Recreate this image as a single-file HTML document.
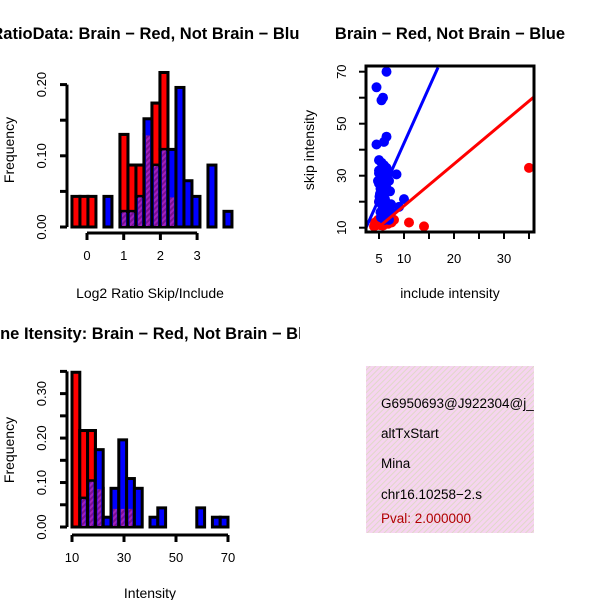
<!DOCTYPE html>
<html><head><meta charset="utf-8"><style>
body{margin:0;background:#fff}
svg text{font-family:"Liberation Sans",sans-serif}
</style></head><body>
<svg id="c" width="600" height="600" xmlns="http://www.w3.org/2000/svg">
<defs>
<pattern id="hatch" patternUnits="userSpaceOnUse" width="4" height="4" patternTransform="rotate(45)">
<rect width="4" height="4" fill="#a020c0"/><rect width="2" height="4" fill="#7a1090"/>
</pattern>
<pattern id="pinkhatch" patternUnits="userSpaceOnUse" width="4" height="4" patternTransform="rotate(45)">
<rect width="4" height="4" fill="#f6d4f0"/><rect width="1" height="4" fill="#e0d8c8"/>
</pattern>
<clipPath id="clipL"><rect x="0" y="0" width="300" height="600"/></clipPath>
<clipPath id="clipScatter"><rect x="366" y="66" width="168" height="166"/></clipPath>
<clipPath id="clipBox"><rect x="366" y="366" width="168" height="167"/></clipPath>
</defs>
<g id="g1" clip-path="url(#clipL)"></g>
<g id="g2"></g>
<g id="g3" clip-path="url(#clipL)"></g>
<g id="g4"></g>
</svg>
<script>
// Top-left histogram (log2 ratio)
const ratioBinStart = -0.41;
const ratioBinWidth = 0.218;
const ratioRed  = [0.043,0.043,0.043,0,0,0,0.13,0.087,0.087,0.13,0.174,0.217,0.043,0,0,0,0,0,0,0];
const ratioBlue = [0,0,0,0,0.043,0,0.022,0.022,0.043,0.152,0.087,0.109,0.109,0.196,0.065,0.043,0,0.087,0,0.022];
const ratioXTicks = [0,1,2,3];
const ratioYTicks = ["0.00","0.10","0.20"];
const ratioYMinor = [0,0.05,0.1,0.15,0.2];
// Bottom-left histogram (intensity)
const intBinStart = 10;
const intBinWidth = 3;
const intRed  = [0.348,0.217,0.217,0.087,0,0.043,0.043,0.043,0,0,0,0,0,0,0,0,0,0,0,0];
const intBlue = [0,0.065,0.104,0.174,0.022,0.087,0.196,0.109,0.087,0,0.022,0.043,0,0,0,0,0.043,0,0.022,0.022];
const intXTicks = [10,30,50,70];
const intYTicks = ["0.00","0.10","0.20","0.30"];
const intYMinor = [0,0.05,0.1,0.15,0.2,0.25,0.3,0.35];
// Scatter
const blueX = [4.5,6.5,5.5,5.8,4.5,6.5,6,8.5,10,9,5,5.5,6,6.5,5,5.5,6,7,5,5.5,6,6.5,5.2,5.8,6.2,5,5.5,6,6.8,5.3,5.7,6.3,7,5,5.6,6.4,7.2,5.1,5.9,6.6,7.5,5.4,6.1,4.8,5.3,6.9,7.4,5.9,6.3];
const blueY = [64,70,59,60,42,45,43,30.5,21,18,36,35,34,33,31,30,29,28,27,26,25,24,23,22,21,20,19,18,17,16,15,14,13,32,30,26,24,22,20,18,16,14,13,28,25,31,19,15,27];
const redX = [35,11,14,4.5,5,4,5.5,6,6.5,7,4.8,5.2,7.5,8,4.2,5.8,6.8];
const redY = [33,12,10.5,11,20,10.5,12,11.5,12.5,13,13,11,12,13,12,10.8,11.5];
const blueLine = [2.4,10,16.8,71.6];
const redLine = [4.5,9.5,36,60.3];
const scXTicks = [5,10,20,30];
const scYTicks = [10,30,50,70];
const scXMinor = [5,10,15,20,25,30,35];
const scYMinor = [10,20,30,40,50,60,70];

const NS="http://www.w3.org/2000/svg";
function mk(parent,tag,attrs,text){const e=document.createElementNS(NS,tag);for(const k in attrs)e.setAttribute(k,attrs[k]);if(text!==undefined)e.textContent=text;parent.appendChild(e);return e;}

function hist(g,opt){
  const xs=v=>opt.x0px+(v-opt.xv0)*opt.xscale;
  const ys=v=>opt.y0px-v*opt.yscale;
  for(let i=0;i<opt.red.length;i++){
    const l=xs(opt.binStart+i*opt.binW), r=xs(opt.binStart+(i+1)*opt.binW);
    const R=opt.red[i];
    if(R>0){const e=mk(g,'rect',{x:l,y:ys(R),width:r-l,height:ys(0)-ys(R),fill:'#ff0000',stroke:'#000','stroke-width':3});
      
      }
  }
  for(let i=0;i<opt.blue.length;i++){
    const l=xs(opt.binStart+i*opt.binW), r=xs(opt.binStart+(i+1)*opt.binW);
    const R=opt.red[i],B=opt.blue[i];
    if(B>0){const e=mk(g,'rect',{x:l,y:ys(B),width:r-l,height:ys(0)-ys(B),fill:'#0000ff',stroke:'#000','stroke-width':3});
      
      }
    if(B>0&&R>0){
      if(R>B){const e2=mk(g,'rect',{x:l,y:ys(R),width:r-l,height:ys(B)-ys(R),fill:'#ff0000',stroke:'#000','stroke-width':3});
        
        }
      const m=Math.min(R,B);
      const o=mk(g,'rect',{x:l+2,y:ys(m)+1,width:r-l-4,height:ys(0)-ys(m)-2,fill:'url(#hatch)'});
      
      
    }
  }
  const ya=mk(g,'g',{});
  
  
  const ymax=opt.yMinor[opt.yMinor.length-1];
  mk(ya,'line',{x1:opt.yAxisX,x2:opt.yAxisX,y1:ys(0),y2:ys(ymax),stroke:'#000','stroke-width':3});
  opt.yMinor.forEach(v=>mk(ya,'line',{x1:opt.yAxisX,x2:opt.yAxisX-7,y1:ys(v),y2:ys(v),stroke:'#000','stroke-width':3}));
  opt.yTicks.forEach(t=>{const v=parseFloat(t);const y=ys(v);
    const e=mk(ya,'text',{x:0,y:0,transform:`translate(${opt.yAxisX-21},${y}) rotate(-90)`,'text-anchor':'middle','font-size':13},t);
    
    });
  const xa=mk(g,'g',{});
  
  
  const t0=opt.xTicks[0],t1=opt.xTicks[opt.xTicks.length-1];
  mk(xa,'line',{x1:xs(t0),x2:xs(t1),y1:opt.xAxisY,y2:opt.xAxisY,stroke:'#000','stroke-width':3});
  opt.xTicks.forEach(v=>{mk(xa,'line',{x1:xs(v),x2:xs(v),y1:opt.xAxisY,y2:opt.xAxisY+7,stroke:'#000','stroke-width':3});
    const e=mk(xa,'text',{x:xs(v),y:opt.xAxisY+27,'text-anchor':'middle','font-size':13},String(v));
    
    });
}

const g1=document.getElementById('g1');
hist(g1,{red:ratioRed,blue:ratioBlue,binStart:ratioBinStart,binW:ratioBinWidth,x0px:87,xv0:0,xscale:36.7,y0px:227,yscale:712,
  yAxisX:67,xAxisY:233,xTicks:ratioXTicks,yTicks:ratioYTicks,yMinor:ratioYMinor});
let t;
t=mk(g1,'text',{x:150,y:39,'text-anchor':'middle','font-size':16.5,'font-weight':'bold'},'RatioData: Brain \u2212 Red, Not Brain \u2212 Blue');

t=mk(g1,'text',{x:150,y:298,'text-anchor':'middle','font-size':14},'Log2 Ratio Skip/Include');

t=mk(g1,'text',{x:0,y:0,transform:'translate(14,150) rotate(-90)','text-anchor':'middle','font-size':14},'Frequency');


const g3=document.getElementById('g3');
hist(g3,{red:intRed,blue:intBlue,binStart:intBinStart,binW:intBinWidth,x0px:72,xv0:10,xscale:2.6,y0px:527,yscale:444.6,
  yAxisX:67,xAxisY:535,xTicks:intXTicks,yTicks:intYTicks,yMinor:intYMinor});
t=mk(g3,'text',{x:150,y:339,'text-anchor':'middle','font-size':16.5,'font-weight':'bold'},'Gene Itensity: Brain \u2212 Red, Not Brain \u2212 Blue');

t=mk(g3,'text',{x:150,y:598,'text-anchor':'middle','font-size':14},'Intensity');

t=mk(g3,'text',{x:0,y:0,transform:'translate(14,450) rotate(-90)','text-anchor':'middle','font-size':14},'Frequency');


const g2=document.getElementById('g2');
const sx=v=>354+v*5.0, sy=v=>227.7-(v-10)*2.6;
t=mk(g2,'text',{x:450,y:39,'text-anchor':'middle','font-size':16.5,'font-weight':'bold'},'Brain \u2212 Red, Not Brain \u2212 Blue');

const pts=mk(g2,'g',{'clip-path':'url(#clipScatter)'});
redX.forEach((x,i)=>{const c=mk(pts,'circle',{cx:sx(x),cy:sy(redY[i]),r:5,fill:'#ff0000'});
  });
blueX.forEach((x,i)=>{const c=mk(pts,'circle',{cx:sx(x),cy:sy(blueY[i]),r:5,fill:'#0000ff'});
  });
let ln=mk(pts,'line',{x1:sx(blueLine[0]),y1:sy(blueLine[1]),x2:sx(blueLine[2]),y2:sy(blueLine[3]),stroke:'#0000ff','stroke-width':3});

ln=mk(pts,'line',{x1:sx(redLine[0]),y1:sy(redLine[1]),x2:sx(redLine[2]),y2:sy(redLine[3]),stroke:'#ff0000','stroke-width':3});

const fr=mk(g2,'rect',{x:366,y:66,width:168,height:166,fill:'none',stroke:'#000','stroke-width':3});

scYMinor.forEach(v=>mk(g2,'line',{x1:366,x2:359,y1:sy(v),y2:sy(v),stroke:'#000','stroke-width':2}));
scXMinor.forEach(v=>mk(g2,'line',{x1:sx(v),x2:sx(v),y1:232,y2:239,stroke:'#000','stroke-width':2}));
scYTicks.forEach(v=>{const e=mk(g2,'text',{x:0,y:0,transform:`translate(346,${sy(v)}) rotate(-90)`,'text-anchor':'middle','font-size':13},String(v));
  });
scXTicks.forEach(v=>{const e=mk(g2,'text',{x:sx(v),y:263,'text-anchor':'middle','font-size':13},String(v));
  });
t=mk(g2,'text',{x:450,y:298,'text-anchor':'middle','font-size':14},'include intensity');

t=mk(g2,'text',{x:0,y:0,transform:'translate(314,150) rotate(-90)','text-anchor':'middle','font-size':14},'skip intensity');


const g4=document.getElementById('g4');
const bx=mk(g4,'rect',{x:366,y:366,width:168,height:167,fill:'url(#pinkhatch)'});

const tb=mk(g4,'g',{'clip-path':'url(#clipBox)'});
const infoLines=[['G6950693@J922304@j_','#000',408,'gene-id-text'],['altTxStart','#000',438,'event-type-text'],['Mina','#000',468,'author-text'],['chr16.10258\u22122.s','#000',499,'location-text'],['Pval: 2.000000','#b00000',523,'pval-text']];
infoLines.forEach(l=>{const e=mk(tb,'text',{x:381,y:l[2],'font-size':13.5,fill:l[1]},l[0]);
  });
</script>
</body></html>
